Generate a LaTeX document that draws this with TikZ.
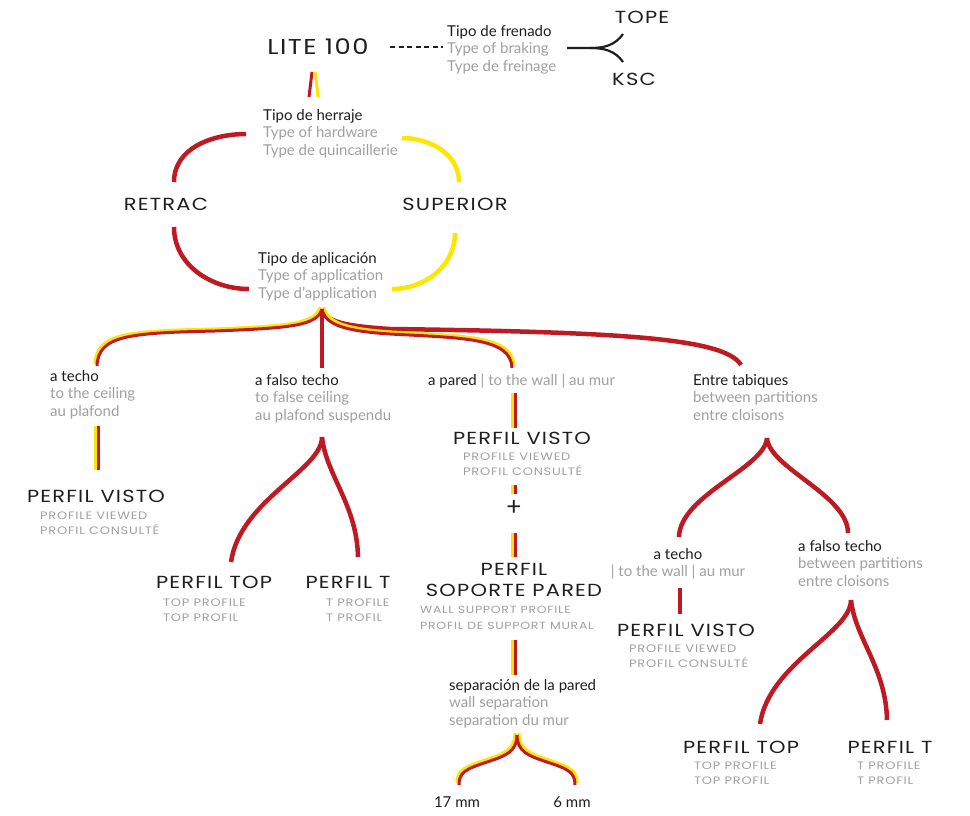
\documentclass[tikz,border=0pt]{standalone}
\usepackage{fontspec}
\setmainfont{Lato}
\newfontfamily\titlefont[FakeStretch=1.2,LetterSpace=7]{Poppins}
\usetikzlibrary{positioning}

\definecolor{lred}{RGB}{190,26,36}
\definecolor{lyel}{RGB}{255,230,0}
\definecolor{lgrey}{RGB}{160,160,160}
\definecolor{ink}{RGB}{30,30,30}

\newcommand\gr[1]{\textcolor{lgrey}{#1}}
% red line with a yellow twin beside it
\newcommand\duo[2]{%
  \begin{scope}[transform canvas={shift={#1}}]\draw[yelline] #2;\end{scope}
  \draw[redline] #2;}

\tikzset{
  redline/.style={draw=lred, line width=3pt},
  yelline/.style={draw=lyel, line width=3pt},
  redbold/.style={draw=lred, line width=4.5pt},
  title/.style={font=\titlefont\fontsize{17.5}{21}\selectfont, text=ink, inner sep=0pt},
  subtitle/.style={font=\titlefont\fontsize{10.8}{15}\selectfont, text=lgrey, align=left, anchor=base west, inner sep=0pt},
  body/.style={font=\fontsize{15}{17.7}\selectfont, text=ink, align=left, anchor=base west, inner sep=0pt},
}

\begin{document}
\begin{tikzpicture}[x=1pt,y=1pt]
  \fill[white] (0,0) rectangle (970,-815);
  \useasboundingbox (0,0) rectangle (970,-815);

  % top line
  \node[title, font=\titlefont\fontsize{21.5}{24}\selectfont] (lite) at (318,-47) {LITE 100};
  \node[body] (frenado) at (447,-71.4) {Tipo de frenado\\\gr{Type of braking}\\\gr{Type de freinage}};
  \node[title] (tope) at (642,-17) {TOPE};
  \node[title] (ksc) at (634,-79) {KSC};
  \coordinate (dashA) at (390,-47);
  \coordinate (dashB) at (443,-47);
  \coordinate (brA) at (567,-48);
  \coordinate (brB) at (590,-48);
  \coordinate (brT) at (623,-34);
  \coordinate (brK) at (623,-62);
  \draw[ink, line width=1.2pt, dash pattern=on 5pt off 3.5pt] (dashA) -- (dashB);
  \draw[ink, line width=2.2pt] (brA) -- (brB) to[out=0,in=-125] (brT);
  \draw[ink, line width=2.2pt] (brB) to[out=0,in=125] (brK);

  % stub under LITE 100
  \coordinate (lsR1) at (312,-72);
  \coordinate (lsR2) at (309,-97);
  \coordinate (lsY1) at (315.5,-72);
  \coordinate (lsY2) at (318,-97);
  \draw[redline] (lsR1) -- (lsR2);
  \draw[yelline] (lsY1) -- (lsY2);

  % hardware
  \node[body] (herraje) at (263,-155.4) {Tipo de herraje\\\gr{Type of hardware}\\\gr{Type de quincaillerie}};
  \node[title] (retrac) at (166,-204) {RETRAC};
  \node[title] (superior) at (455,-204) {SUPERIOR};
  \node[body] (aplic) at (258,-298.4) {Tipo de aplicación\\\gr{Type of application}\\\gr{Type d'application}};
  \coordinate (hA) at (246,-134);
  \coordinate (hB) at (174,-182);
  \coordinate (hC) at (402,-138);
  \coordinate (hD) at (459,-182);
  \coordinate (hE) at (174,-227);
  \coordinate (hF) at (249,-289);
  \coordinate (hG) at (455,-233);
  \coordinate (hH) at (392,-289);
  \draw[redbold] (hA) to[out=180,in=90] (hB);
  \draw[redbold] (hE) to[out=-90,in=180] (hF);
  \draw[redbold, draw=lyel] (hC) to[out=0,in=90] (hD);
  \draw[redbold, draw=lyel] (hG) to[out=-90,in=0] (hH);

  % application brace
  \coordinate (bp) at (322,-309);
  \coordinate (bL1) at (215,-331);
  \coordinate (bL2) at (97,-366);
  \coordinate (bM) at (322,-368);
  \coordinate (bP1) at (390,-334);
  \coordinate (bP2) at (512,-368);
  \coordinate (bE1) at (390,-329);
  \coordinate (bE2) at (741,-365);
  \draw[redbold] (bp) .. controls (326,-322) and (345,-326) .. (bE1)
                      .. controls (620,-332) and (725,-338) .. (bE2);
  \duo{(2,2)}{(bp) .. controls (325,-325) and (345,-331) .. (bP1)
                   .. controls (465,-338) and (511,-338) .. (bP2)}
  \duo{(-2,2)}{(bp) .. controls (317,-326) and (290,-328) .. (bL1)
                    .. controls (130,-333) and (98,-335) .. (bL2)}
  \draw[redbold] (bp) -- (bM);

  % a techo
  \node[body] (techoA) at (50,-416.4) {a techo\\\gr{to the ceiling}\\\gr{au plafond}};
  \coordinate (s1a) at (98.5,-426);
  \coordinate (s1b) at (98.5,-470);
  \duo{(-3,0)}{(s1a) -- (s1b)}
  \node[title] (vistoA) at (96,-496) {PERFIL VISTO};
  \node[subtitle] (vistoAs) at (40,-534) {PROFILE VIEWED\\PROFIL CONSULTÉ};

  % a falso techo
  \node[body] (falsoA) at (255,-420.4) {a falso techo\\\gr{to false ceiling}\\\gr{au plafond suspendu}};
  \coordinate (fp) at (322,-437);
  \coordinate (fL) at (231,-562);
  \coordinate (fR) at (358,-557);
  \draw[redbold] (fp) .. controls (322,-470) and (240,-500) .. (fL);
  \draw[redbold] (fp) .. controls (326,-475) and (357,-505) .. (fR);
  \node[title] (topA) at (214,-582) {PERFIL TOP};
  \node[subtitle] (topAs) at (163,-621) {TOP PROFILE\\TOP PROFIL};
  \node[title] (tA) at (348,-582) {PERFIL T};
  \node[subtitle] (tAs) at (326,-621) {T PROFILE\\T PROFIL};

  % a pared
  \node[body] (pared) at (428,-385) {a pared \gr{| to the wall | au mur}};
  \coordinate (pa1) at (515,-393);
  \coordinate (pa2) at (515,-428);
  \coordinate (pb1) at (515,-485);
  \coordinate (pb2) at (515,-494);
  \coordinate (pc1) at (515,-533);
  \coordinate (pc2) at (515,-557);
  \coordinate (pd1) at (515,-640);
  \coordinate (pd2) at (515,-675);
  \duo{(-3,0)}{(pa1) -- (pa2)}
  \duo{(-3,0)}{(pb1) -- (pb2)}
  \duo{(-3,0)}{(pc1) -- (pc2)}
  \duo{(-3,0)}{(pd1) -- (pd2)}
  \node[title] (vistoB) at (522,-438) {PERFIL VISTO};
  \node[subtitle] (vistoBs) at (463,-475) {PROFILE VIEWED\\PROFIL CONSULTÉ};
  \node[body, anchor=center, font=\fontsize{26}{28}\selectfont] (plus) at (514,-508) {+};
  \node[title, align=center] (soporte) at (514,-580) {PERFIL\\SOPORTE PARED};
  \node[subtitle, font=\titlefont\fontsize{10.4}{16}\selectfont] (soportes) at (420,-629) {WALL SUPPORT PROFILE\\PROFIL DE SUPPORT MURAL};
  \node[body] (sep) at (449,-725.4) {separación de la pared\\\gr{wall separation}\\\gr{separation du mur}};
  \coordinate (sp) at (517,-735);
  \coordinate (sL1) at (487,-762);
  \coordinate (sL2) at (459,-785);
  \coordinate (sR1) at (547,-762);
  \coordinate (sR2) at (575,-785);
  \duo{(-2,2)}{(sp) .. controls (517,-752) and (505,-756) .. (sL1)
                    .. controls (466,-769) and (459,-772) .. (sL2)}
  \duo{(2,2)}{(sp) .. controls (517,-752) and (529,-756) .. (sR1)
                   .. controls (568,-769) and (575,-772) .. (sR2)}
  \node[body, anchor=center] (mm17) at (457,-802) {17 mm};
  \node[body, anchor=center] (mm6) at (572,-802) {6 mm};

  % entre tabiques
  \node[body] (entre) at (693,-420.4) {Entre tabiques\\\gr{between partitions}\\\gr{entre cloisons}};
  \coordinate (ep) at (767,-438);
  \coordinate (eL) at (679,-537);
  \coordinate (eR) at (848,-533);
  \draw[redbold] (ep) .. controls (765,-468) and (680,-495) .. (eL);
  \draw[redbold] (ep) .. controls (769,-468) and (848,-495) .. (eR);
  \node[body, anchor=base, align=center] (techoB) at (678,-576.7) {a techo\\\gr{| to the wall | au mur}};
  \coordinate (rt1) at (680,-588);
  \coordinate (rt2) at (680,-614);
  \draw[redbold] (rt1) -- (rt2);
  \node[title] (vistoC) at (686,-630) {PERFIL VISTO};
  \node[subtitle] (vistoCs) at (629,-667) {PROFILE VIEWED\\PROFIL CONSULTÉ};
  \node[body] (falsoB) at (798,-586.4) {a falso techo\\\gr{between partitions}\\\gr{entre cloisons}};
  \coordinate (gp) at (851,-600);
  \coordinate (gL) at (760,-724);
  \coordinate (gR) at (887,-720);
  \draw[redbold] (gp) .. controls (851,-633) and (769,-663) .. (gL);
  \draw[redbold] (gp) .. controls (855,-638) and (886,-668) .. (gR);
  \node[title] (topB) at (741,-747) {PERFIL TOP};
  \node[subtitle] (topBs) at (694,-784) {TOP PROFILE\\TOP PROFIL};
  \node[title] (tB) at (890,-747) {PERFIL T};
  \node[subtitle] (tBs) at (857,-784) {T PROFILE\\T PROFIL};
\end{tikzpicture}
\end{document}
